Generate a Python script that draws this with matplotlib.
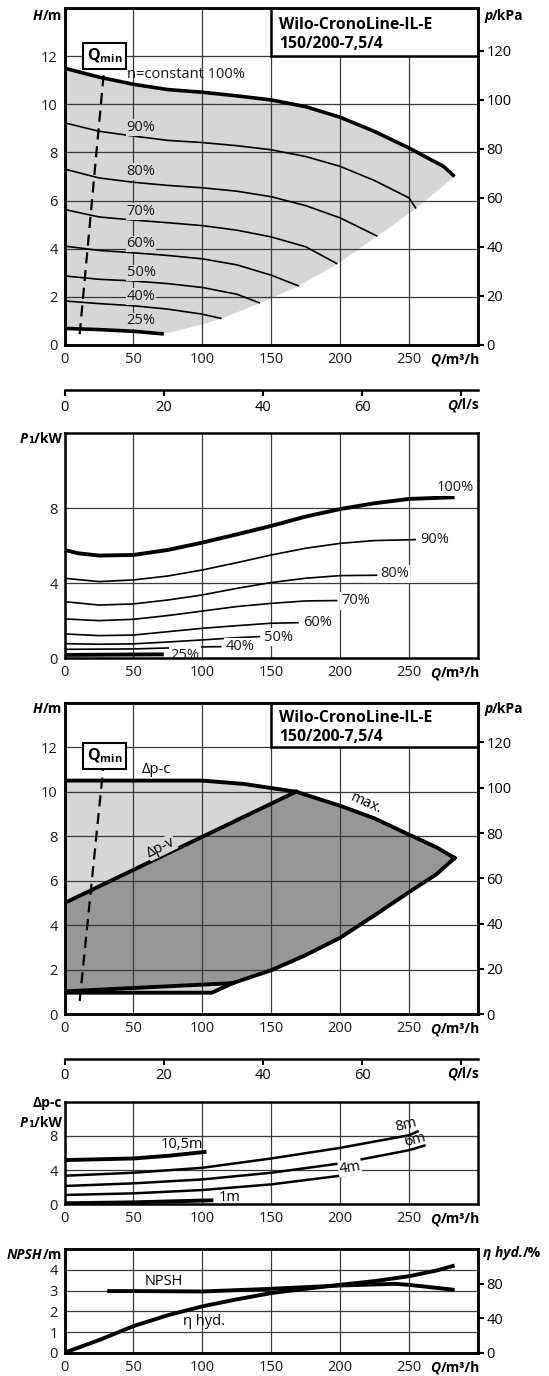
import matplotlib
matplotlib.use("Agg")
import matplotlib.pyplot as plt
from matplotlib.patches import Rectangle, Polygon

plt.rcParams['font.family'] = ['Open Sans', 'DejaVu Sans']
plt.rcParams['mathtext.fontset'] = 'custom'
plt.rcParams['mathtext.rm'] = 'Open Sans'
plt.rcParams['mathtext.bf'] = 'Open Sans:bold'

# ---- data: pump curves H(Q), Q in m3/h ----
q_ticks = [0, 50, 100, 150, 200, 250]
ls_ticks = [0, 20, 40, 60, 80]
ls_labels = ['0', '20', '40', '60', '']
title_lines = "Wilo-CronoLine-IL-E\n150/200-7,5/4"

q100 = [0, 25, 50, 75, 100, 125, 150, 175, 200, 225, 250, 275, 283]
h100 = [11.5, 11.13, 10.83, 10.61, 10.5, 10.35, 10.18, 9.9, 9.46, 8.87, 8.18, 7.42, 7.0]
q90 = [0, 25, 50, 75, 100, 125, 150, 175, 200, 225, 250, 255]
h90 = [9.23, 8.88, 8.68, 8.5, 8.41, 8.28, 8.11, 7.83, 7.42, 6.83, 6.11, 5.67]
q80 = [0, 25, 50, 75, 100, 125, 150, 175, 200, 227]
h80 = [7.31, 6.94, 6.76, 6.63, 6.53, 6.39, 6.16, 5.79, 5.28, 4.52]
q70 = [0, 25, 50, 75, 100, 125, 150, 175, 198]
h70 = [5.63, 5.32, 5.19, 5.08, 4.96, 4.77, 4.49, 4.08, 3.37]
q60 = [0, 25, 50, 75, 100, 125, 150, 170]
h60 = [4.11, 3.93, 3.83, 3.72, 3.58, 3.33, 2.9, 2.45]
q50 = [0, 25, 50, 75, 100, 125, 142]
h50 = [2.87, 2.73, 2.66, 2.55, 2.39, 2.11, 1.74]
q40 = [0, 25, 50, 75, 100, 114]
h40 = [1.83, 1.72, 1.63, 1.49, 1.28, 1.1]
q25 = [0, 25, 50, 72]
h25 = [0.69, 0.64, 0.57, 0.46]
# end points of the speed curves (lower edge of the grey field)
qend = [283, 255, 227, 198, 170, 142, 114, 100, 72]
hend = [7.0, 5.67, 4.52, 3.37, 2.45, 1.74, 1.1, 0.85, 0.46]
speed_labels = ['n=constant 100%', '90%', '80%', '70%', '60%', '50%', '40%', '25%']
speed_label_h = [11.25, 9.04, 7.2, 5.55, 4.2, 3.0, 2.02, 1.0]
qmin_q = [11, 28.5]
qmin_h = [0.45, 11.3]

# ---- power P1(Q) ----
pq100 = [0, 10, 25, 50, 75, 100, 125, 150, 175, 200, 225, 250, 283]
p100 = [5.78, 5.6, 5.48, 5.51, 5.78, 6.17, 6.61, 7.06, 7.56, 7.96, 8.27, 8.5, 8.59]
pq90 = [0, 25, 50, 75, 100, 125, 150, 175, 200, 225, 255]
p90 = [4.27, 4.09, 4.18, 4.39, 4.71, 5.1, 5.51, 5.87, 6.13, 6.28, 6.33]
pq80 = [0, 25, 50, 75, 100, 125, 150, 175, 200, 227]
p80 = [3.02, 2.84, 2.9, 3.11, 3.38, 3.73, 4.04, 4.27, 4.41, 4.43]
pq70 = [0, 25, 50, 75, 100, 125, 150, 175, 198]
p70 = [2.1, 2.01, 2.08, 2.28, 2.52, 2.76, 2.93, 3.06, 3.08]
pq60 = [0, 25, 50, 75, 100, 125, 150, 170]
p60 = [1.3, 1.21, 1.24, 1.42, 1.6, 1.74, 1.87, 1.9]
pq50 = [0, 25, 50, 75, 100, 125, 142]
p50 = [0.78, 0.75, 0.77, 0.87, 0.98, 1.1, 1.16]
pq40 = [0, 50, 75, 100, 114]
p40 = [0.48, 0.5, 0.55, 0.61, 0.62]
pq25 = [0, 72]
p25 = [0.18, 0.21]
p_labels = ['100%', '90%', '80%', '70%', '60%', '50%', '40%', '25%']
p_label_q = [270, 258, 229, 201, 173, 145, 117, 77]
p_label_p = [9.12, 6.31, 4.5, 3.06, 1.9, 1.12, 0.62, 0.16]

# ---- control modes ----
dpc_max_q = [0, 100, 130, 168]
dpc_max_h = [10.5, 10.5, 10.35, 10.0]
max_q = [168, 200, 225, 250, 270, 283]
max_h = [10.0, 9.37, 8.8, 8.07, 7.5, 7.02]
min_q = [283, 270, 250, 225, 200, 175, 150, 122]
min_h = [7.02, 6.3, 5.49, 4.45, 3.44, 2.66, 1.98, 1.4]
dpv_max_q = [0, 168]
dpv_max_h = [5.0, 10.0]
dpv_min_q = [0, 122]
dpv_min_h = [1.03, 1.4]
dpc_min_q = [0, 107, 122]
dpc_min_h = [0.97, 0.97, 1.4]
qmin3_q = [11, 28]
qmin3_h = [0.6, 11.0]

# ---- P1 for dp-c ----
cq105 = [0, 50, 75, 103]
c105 = [5.17, 5.36, 5.67, 6.14]
cq8 = [0, 50, 100, 150, 200, 250, 257]
c8 = [3.34, 3.69, 4.27, 5.36, 6.6, 8.08, 8.58]
cq6 = [0, 50, 100, 150, 200, 250, 262]
c6 = [2.14, 2.45, 2.91, 3.69, 4.78, 6.33, 6.91]
cq4 = [0, 50, 100, 150, 200, 214]
c4 = [1.09, 1.28, 1.67, 2.33, 3.34, 3.73]
cq1 = [0, 50, 108]
c1 = [0.12, 0.23, 0.47]

# ---- NPSH and efficiency ----
npsh_q = [31, 50, 100, 150, 200, 240, 250, 283]
npsh = [2.98, 2.98, 2.96, 3.09, 3.25, 3.33, 3.28, 3.04]
eta_q = [0, 25, 50, 75, 100, 125, 150, 175, 200, 225, 250, 270, 283]
eta = [0, 14.6, 30.8, 43.5, 53.8, 61.9, 69.2, 74.2, 78.8, 83.1, 88.8, 95.4, 101.2]

W, H = 549, 1376
L, R = 64.5, 478.0
fig = plt.figure(figsize=(W / 100, H / 100), dpi=100)
LIGHT = '#d6d6d6'
DARK = '#979797'


def box(top, bot):
    return [L / W, 1 - bot / H, (R - L) / W, (bot - top) / H]


def ftxt(x, y, s, **kw):
    return fig.text(x / W, 1 - y / H, s, **kw)


def unit(x, y, ital, rest, ha='right', size=10):
    if ha == 'right':
        t = ftxt(x, y, rest, ha='right', va='center', fontweight='bold', fontsize=size)
        fig.axes[0].annotate(ital, xy=(0, 0.5), xycoords=t, ha='right', va='center',
                             fontweight='bold', fontstyle='italic', fontsize=size)
    else:
        t = ftxt(x, y, ital, ha='left', va='center', fontweight='bold',
                 fontstyle='italic', fontsize=size)
        fig.axes[0].annotate(rest, xy=(1, 0.5), xycoords=t, ha='left', va='center',
                             fontweight='bold', fontsize=size)


def frame(ax, ymax, yticks, bot):
    ax.set_xlim(0, 300)
    ax.set_ylim(0, ymax)
    ax.set_xticks(q_ticks)
    ax.set_yticks(yticks)
    ax.grid(True, color='#3a3a3a', lw=0.9)
    ax.set_axisbelow(True)
    ax.tick_params(length=0, labelsize=10.5, pad=5, colors='#1a1a1a')
    for s in ax.spines.values():
        s.set_linewidth(1.8)
    unit(480, bot + 15, 'Q', '/m³/h')


def right_axis(ax, ymax, ticks):
    a = ax.twinx()
    a.set_ylim(0, ymax)
    a.set_yticks(ticks)
    a.tick_params(direction='out', length=4, width=1.5, labelsize=10.5, pad=2)
    for s in a.spines.values():
        s.set_linewidth(1.8)
    return a


def ls_axis(y):
    a = fig.add_axes([L / W, 1 - y / H, (R - L) / W, 0.0001])
    a.set_xlim(0, 300 / 3.6)
    a.set_xticks(ls_ticks)
    a.set_xticklabels(ls_labels)
    a.set_yticks([])
    for s in ['top', 'left', 'right']:
        a.spines[s].set_visible(False)
    a.spines['bottom'].set_linewidth(1.8)
    a.patch.set_visible(False)
    a.tick_params(axis='x', direction='out', length=4, width=1.5, labelsize=10.5, pad=3)
    unit(480, y + 15, 'Q', '/l/s')


def title_box(ax):
    ax.add_patch(Rectangle((150, 12), 150, 2, facecolor='white', edgecolor='black',
                           lw=1.8, zorder=3))
    ax.text(155.5, 12.9, title_lines, ha='left', va='center', fontsize=11.3,
            fontweight='bold', linespacing=1.25, zorder=4)


def qmin_box(ax, h):
    ax.text(29, h, r'$\mathbf{Q_{min}}$', ha='center', va='center', fontsize=11.5, zorder=5,
            bbox=dict(boxstyle='square,pad=0.25', fc='white', ec='black', lw=1.5))


# ================= panel 1: H(Q) for n = const =================
ax1 = fig.add_axes(box(8, 345))
frame(ax1, 14, [0, 2, 4, 6, 8, 10, 12], 345)
ax1r = right_axis(ax1, 137.5, [0, 20, 40, 60, 80, 100, 120])
unit(62, 16, 'H', '/m')
unit(484, 16, 'p', '/kPa', ha='left')

outline = list(zip(q100, h100)) + list(zip(qend, hend)) + list(zip(q25[::-1], h25[::-1]))
ax1.add_patch(Polygon(outline, closed=True, facecolor=LIGHT, edgecolor='none', zorder=0.2))
for q, h, lw in [(q100, h100, 2.6), (q90, h90, 1.2), (q80, h80, 1.2), (q70, h70, 1.2),
                 (q60, h60, 1.2), (q50, h50, 1.2), (q40, h40, 1.2), (q25, h25, 2.6)]:
    ax1.plot(q, h, color='black', lw=lw, solid_capstyle='butt', solid_joinstyle='round', zorder=2)
for i, (s, h) in enumerate(zip(speed_labels, speed_label_h)):
    bb = None if i == 0 else dict(boxstyle='square,pad=0.05', fc=LIGHT, ec='none')
    ax1.text(45, h, s, ha='left', va='center', fontsize=10.5, color='#1a1a1a', zorder=3, bbox=bb)
ax1.plot(qmin_q, qmin_h, color='black', lw=1.6, dashes=(5, 3), zorder=2)
qmin_box(ax1, 12.0)
title_box(ax1)
ls_axis(390)

# ================= panel 2: P1(Q) =================
ax2 = fig.add_axes(box(433.3, 658.3))
frame(ax2, 12, [0, 4, 8], 658.3)
unit(62, 439, 'P', '₁/kW')
for q, p, lw in [(pq100, p100, 2.8), (pq90, p90, 1.2), (pq80, p80, 1.2), (pq70, p70, 1.2),
                 (pq60, p60, 1.2), (pq50, p50, 1.2), (pq40, p40, 1.2), (pq25, p25, 2.8)]:
    ax2.plot(q, p, color='black', lw=lw, solid_capstyle='butt', solid_joinstyle='round', zorder=2)
for s, q, p in zip(p_labels, p_label_q, p_label_p):
    ax2.text(q, p, s, ha='left', va='center', fontsize=10.5, color='#1a1a1a', zorder=2,
             clip_on=True, bbox=dict(boxstyle='square,pad=0.1', fc='white', ec='none'))

# ================= panel 3: control modes =================
ax3 = fig.add_axes(box(702.7, 1014.3))
frame(ax3, 14, [0, 2, 4, 6, 8, 10, 12], 1014.3)
ax3r = right_axis(ax3, 137.5, [0, 20, 40, 60, 80, 100, 120])
unit(62, 709, 'H', '/m')
unit(484, 709, 'p', '/kPa', ha='left')

light_poly = (list(zip(dpc_max_q, dpc_max_h)) + list(zip(max_q[1:], max_h[1:]))
              + list(zip(min_q[1:], min_h[1:])) + list(zip(dpc_min_q[::-1], dpc_min_h[::-1])))
ax3.add_patch(Polygon(light_poly, closed=True, facecolor=LIGHT, edgecolor='none', zorder=0.2))
dark_poly = (list(zip(dpv_max_q, dpv_max_h)) + list(zip(max_q[1:], max_h[1:]))
             + list(zip(min_q[1:], min_h[1:])) + list(zip(dpv_min_q[::-1], dpv_min_h[::-1])))
ax3.add_patch(Polygon(dark_poly, closed=True, facecolor=DARK, edgecolor='none', zorder=0.3))
for q, h in [(dpc_max_q, dpc_max_h), (max_q, max_h), (min_q, min_h), (dpv_max_q, dpv_max_h),
             (dpv_min_q, dpv_min_h), (dpc_min_q, dpc_min_h)]:
    ax3.plot(q, h, color='black', lw=2.8, solid_joinstyle='miter', zorder=2)
ax3.plot(qmin3_q, qmin3_h, color='black', lw=1.6, dashes=(5, 3), zorder=2)
ax3.text(56, 11.0, 'Δp-c', ha='left', va='center', fontsize=10.5, zorder=3)
ax3.text(70, 7.5, 'Δp-v', ha='center', va='center', fontsize=10.5, rotation=26, zorder=3,
         bbox=dict(boxstyle='square,pad=0.05', fc=LIGHT, ec='none'))
ax3.text(219, 9.47, 'max.', ha='center', va='center', fontsize=10.5, rotation=-24, zorder=3)
qmin_box(ax3, 11.6)
title_box(ax3)
ls_axis(1058.5)

# ================= panel 4: P1 for dp-c =================
ax4 = fig.add_axes(box(1101.7, 1204.3))
frame(ax4, 12, [0, 4, 8], 1204.3)
ftxt(62, 1103.5, 'Δp-c', ha='right', va='center', fontweight='bold', fontsize=10)
unit(62, 1122.7, 'P', '₁/kW')
for q, p, lw in [(cq105, c105, 2.8), (cq8, c8, 1.8), (cq6, c6, 1.8), (cq4, c4, 1.8),
                 (cq1, c1, 2.8)]:
    ax4.plot(q, p, color='black', lw=lw, solid_capstyle='butt', solid_joinstyle='round', zorder=2)
ax4.text(85, 6.95, '10,5m', ha='center', va='center', fontsize=10.5, zorder=3)
ax4.text(248, 9.3, '8m', ha='center', va='center', fontsize=10.5, rotation=14, zorder=3)
ax4.text(254, 7.55, '6m', ha='center', va='center', fontsize=10.5, rotation=14, zorder=3)
ax4.text(207, 4.3, '4m', ha='center', va='center', fontsize=10.5, rotation=8, zorder=3,
         bbox=dict(boxstyle='square,pad=0.05', fc='white', ec='none'))
ax4.text(120, 0.85, '1m', ha='center', va='center', fontsize=10.5, zorder=3)

# ================= panel 5: NPSH and efficiency =================
ax5 = fig.add_axes(box(1249.3, 1352.7))
frame(ax5, 5, [0, 1, 2, 3, 4], 1352.7)
ax5r = right_axis(ax5, 120, [0, 40, 80])
unit(62, 1255, 'NPSH', '/m')
unit(483, 1253, 'η hyd.', '/%', ha='left')
ax5.plot(npsh_q, npsh, color='black', lw=2.8, solid_capstyle='butt', solid_joinstyle='round', zorder=2)
ax5r.plot(eta_q, eta, color='black', lw=2.8, solid_capstyle='butt', solid_joinstyle='round', zorder=2)
ax5.text(72, 3.45, 'NPSH', ha='center', va='center', fontsize=10.5)
ax5.text(101, 1.5, 'η hyd.', ha='center', va='center', fontsize=10.5)

fig.savefig('out.png', dpi=100)
